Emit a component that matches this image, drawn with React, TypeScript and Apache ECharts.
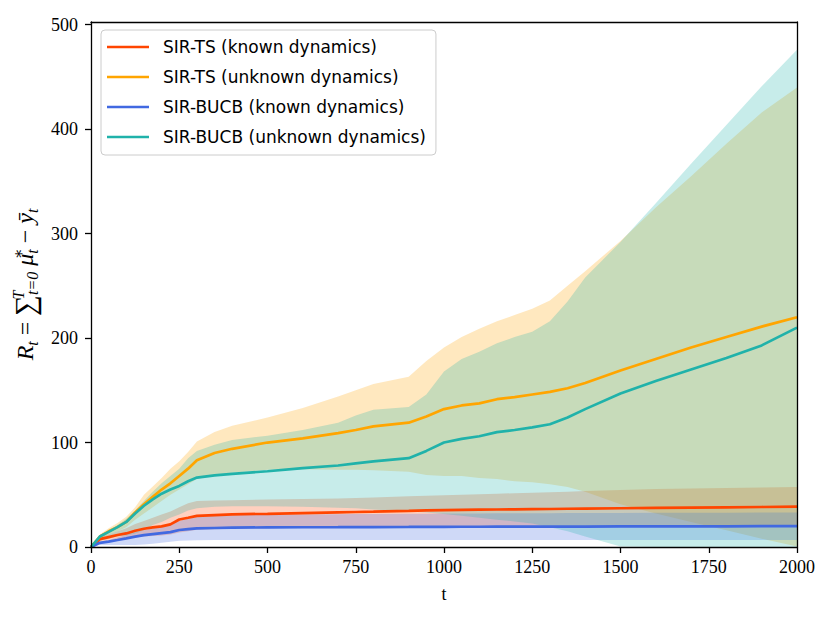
import React, { useEffect, useRef } from "react";
import * as echarts from "echarts";

const T = [0, 25, 50, 75, 100, 125, 150, 175, 200, 225, 250, 275, 300, 350, 400, 500, 600, 700, 750, 800, 900, 950, 1000, 1050, 1100, 1150, 1200, 1250, 1300, 1350, 1400, 1500, 1600, 1700, 1800, 1900, 2000];

const TS_KNOWN = [0, 7.5, 9.5, 11.5, 13, 15.5, 17.5, 18.8, 19.8, 21.7, 26.3, 28, 29.8, 30.6, 31.3, 31.8, 32.5, 33.2, 33.5, 33.8, 34.5, 35, 35.3, 35.5, 35.7, 35.9, 36, 36.2, 36.4, 36.6, 36.8, 37.1, 37.4, 37.7, 38, 38.3, 38.6];
const TS_KNOWN_HI = [0, 9, 12, 15, 18, 22, 25, 28, 31, 34, 38, 42, 44, 44.5, 44.8, 45.5, 46, 46.5, 47, 47.5, 48.5, 49, 49.5, 50, 50.5, 51, 51.5, 52, 52.5, 53, 53.5, 54.5, 55.5, 56, 56.5, 57, 57.5];
const TS_KNOWN_LO = [0, 5, 6, 7, 8, 9, 10, 10.5, 11, 12, 14, 15, 16.5, 17, 17.5, 18, 18.5, 19, 19, 19.2, 19.5, 19.6, 19.7, 19.8, 19.9, 20, 20, 20, 20, 20, 20, 20, 20, 20, 20, 20, 20];

const TS_UNK = [0, 10, 15, 19, 24, 33, 41, 48, 55, 61, 68, 75, 83, 90, 94, 100, 104, 109, 112, 115.5, 119, 125, 132, 135.5, 137.5, 141.5, 143.5, 146, 148.5, 152, 157, 169, 180, 191, 201, 211, 220];
const TS_UNK_HI = [0, 12, 18, 23, 29, 38, 50, 58, 66, 75, 82, 91, 101, 110, 116, 124, 133, 144, 150, 156, 163, 178, 191, 201, 209, 216, 222, 228, 236, 250, 264, 293, 325, 355, 386, 416, 440];
const TS_UNK_LO = [0, 8, 12, 15, 19, 26, 32, 38, 44, 50, 55, 60, 65, 69, 71, 74, 74.5, 74, 74, 73.5, 72, 69, 68, 68, 66, 65, 63, 62, 60, 57.5, 53, 41, 32, 24, 16, 8, 0.5];

const BUCB_KNOWN = [0, 4, 5.2, 6.7, 8.3, 10, 11.3, 12.3, 13.3, 14.3, 16.3, 17.2, 17.8, 18.2, 18.5, 18.8, 18.9, 19, 19.1, 19.1, 19.2, 19.3, 19.3, 19.4, 19.4, 19.5, 19.5, 19.5, 19.6, 19.6, 19.6, 19.7, 19.7, 19.8, 19.8, 19.9, 20];
const BUCB_KNOWN_HI = [0, 5, 6.5, 9, 11.5, 14, 16, 18, 20, 22, 25, 27, 29, 30, 30.5, 31, 31.2, 31.4, 31.5, 31.6, 31.8, 31.9, 32, 32, 32.1, 32.2, 32.3, 32.3, 32.4, 32.5, 32.5, 32.6, 32.7, 32.8, 32.9, 33, 33];
const BUCB_KNOWN_LO = [0, 2, 2, 2, 2, 2, 2.5, 3, 4, 5, 6, 6.3, 6.5, 6.6, 6.7, 6.7, 6.7, 6.7, 6.7, 6.7, 6.7, 6.7, 6.7, 6.7, 6.7, 6.7, 6.7, 6.7, 6.7, 6.7, 6.7, 6.7, 6.7, 6.7, 6.7, 6.7, 6.7];

const BUCB_UNK = [0, 10, 14.5, 19, 24, 32, 39.5, 45.5, 51, 55, 58.5, 63, 66.5, 68.5, 70, 72.5, 75.5, 78, 80, 82, 85, 92, 100, 103.5, 106, 110, 112, 114.5, 117.5, 124, 132, 147, 159, 170, 181, 193, 210];
const BUCB_UNK_HI = [0, 11, 16, 21, 27, 35, 44, 53, 61, 68, 75, 85, 92, 98, 102.5, 106.5, 112, 119, 126, 131.5, 134, 146, 168, 180, 187, 195, 201, 206, 216, 235, 258, 292, 329, 367, 404, 441, 476];
const BUCB_UNK_LO = [0, 6, 8, 10, 11, 13, 16, 21, 24, 28, 31, 35, 37, 38.5, 39, 39, 38.5, 37.5, 37, 36, 34, 33, 31.5, 30, 28, 26, 24.5, 22.5, 19, 15, 10, 0.5, 0, 0, 0, 0, 0];

const X_TICKS = [0, 250, 500, 750, 1000, 1250, 1500, 1750, 2000];
const Y_TICKS = [0, 100, 200, 300, 400, 500];

const NAMES = [
  "SIR-TS (known dynamics)",
  "SIR-TS (unknown dynamics)",
  "SIR-BUCB (known dynamics)",
  "SIR-BUCB (unknown dynamics)",
];
const COLORS = ["#ff4500", "#ffa500", "#4169e1", "#20b2aa"];
const MEANS = [TS_KNOWN, TS_UNK, BUCB_KNOWN, BUCB_UNK];
const HIS = [TS_KNOWN_HI, TS_UNK_HI, BUCB_KNOWN_HI, BUCB_UNK_HI];
const LOS = [TS_KNOWN_LO, TS_UNK_LO, BUCB_KNOWN_LO, BUCB_UNK_LO];

const SERIF = "'Liberation Serif', 'DejaVu Serif', serif";

function hexToRgba(hex: string, a: number) {
  const n = parseInt(hex.slice(1), 16);
  return `rgba(${(n >> 16) & 255},${(n >> 8) & 255},${n & 255},${a})`;
}

function bandSeries(idx: number) {
  const lo = LOS[idx];
  const hi = HIS[idx];
  return {
    type: "custom",
    name: "band" + idx,
    coordinateSystem: "cartesian2d",
    silent: true,
    z: 2,
    data: [[0, 0]],
    renderItem: (_params: any, api: any) => {
      const pts: number[][] = [];
      for (let i = 0; i < T.length; i++) pts.push(api.coord([T[i], hi[i]]));
      for (let i = T.length - 1; i >= 0; i--) pts.push(api.coord([T[i], lo[i]]));
      return {
        type: "polygon",
        shape: { points: pts },
        style: { fill: hexToRgba(COLORS[idx], 0.25), stroke: "none" },
      };
    },
  };
}

function lineSeries(idx: number) {
  return {
    type: "line",
    name: NAMES[idx],
    data: T.map((t, i) => [t, MEANS[idx][i]]),
    showSymbol: false,
    symbol: "none",
    z: 3,
    lineStyle: { color: COLORS[idx], width: 2.7 },
    itemStyle: { color: COLORS[idx] },
  };
}

const yName =
  "{i|R}{s|t}{n| = }{sum|∑}{sp|T}{s|t=0}{i| μ}{sp|∗}{s|t}{n| − }{i|ȳ}{s|t}";

export default function App() {
  const ref = useRef<HTMLDivElement>(null);
  useEffect(() => {
    if (!ref.current) return;
    const chart = echarts.init(ref.current, null, { renderer: "svg" });
    const axisLineStyle = { color: "#000", width: 1.3 };
    const option: any = {
      animation: false,
      backgroundColor: "#fff",
      grid: { left: 91, right: 34, top: 22, bottom: 71, containLabel: false },
      legend: {
        orient: "vertical",
        left: 101,
        top: 30,
        data: NAMES,
        icon: "rect",
        itemWidth: 42,
        itemHeight: 2.6,
        itemGap: 10,
        padding: [7, 10, 8, 6],
        backgroundColor: "rgba(255,255,255,0.8)",
        borderColor: "#cccccc",
        borderWidth: 1,
        borderRadius: 4,
        textStyle: {
          fontFamily: "'DejaVu Sans', sans-serif",
          fontSize: 17,
          color: "#000",
          lineHeight: 20,
          padding: [0, 0, 0, 9],
        },
      },
      xAxis: [
        {
          type: "value",
          min: 0,
          max: 2000,
          interval: 250,
          position: "bottom",
          z: 5,
          name: "t",
          nameLocation: "middle",
          nameGap: 38,
          nameTextStyle: { fontFamily: SERIF, fontSize: 18, color: "#000" },
          axisLine: { show: true, onZero: false, lineStyle: axisLineStyle },
          axisTick: { show: true, length: 6, lineStyle: axisLineStyle, customValues: X_TICKS },
          axisLabel: {
            customValues: X_TICKS,
            fontFamily: SERIF,
            fontSize: 18,
            color: "#000",
            margin: 11,
            formatter: (v: number) => String(v),
          },
          splitLine: { show: false },
        },
        {
          type: "value",
          min: 0,
          max: 2000,
          position: "top",
          z: 5,
          axisLine: { show: true, onZero: false, lineStyle: axisLineStyle },
          axisTick: { show: false },
          axisLabel: { show: false },
          splitLine: { show: false },
        },
      ],
      yAxis: [
        {
          type: "value",
          min: 0,
          max: 502.6,
          interval: 100,
          position: "left",
          z: 5,
          name: yName,
          nameLocation: "middle",
          nameRotate: 90,
          nameGap: 39,
          nameTextStyle: {
            fontFamily: SERIF,
            color: "#000",
            rich: {
              i: { fontFamily: SERIF, fontStyle: "italic", fontSize: 24, lineHeight: 30, color: "#000" },
              n: { fontFamily: SERIF, fontSize: 24, lineHeight: 30, color: "#000" },
              sum: { fontFamily: SERIF, fontSize: 29, lineHeight: 30, color: "#000" },
              s: { fontFamily: SERIF, fontStyle: "italic", fontSize: 16, lineHeight: 15, verticalAlign: "bottom", color: "#000" },
              sp: { fontFamily: SERIF, fontStyle: "italic", fontSize: 16, lineHeight: 15, verticalAlign: "top", width: 0, color: "#000" },
            },
          },
          axisLine: { show: true, onZero: false, lineStyle: axisLineStyle },
          axisTick: { show: true, length: 6, lineStyle: axisLineStyle, customValues: Y_TICKS },
          axisLabel: {
            customValues: Y_TICKS,
            fontFamily: SERIF,
            fontSize: 18,
            color: "#000",
            margin: 13,
            formatter: (v: number) => String(v),
          },
          splitLine: { show: false },
        },
        {
          type: "value",
          min: 0,
          max: 502.6,
          position: "right",
          z: 5,
          axisLine: { show: true, onZero: false, lineStyle: axisLineStyle },
          axisTick: { show: false },
          axisLabel: { show: false },
          splitLine: { show: false },
        },
      ],
      series: [
        bandSeries(0),
        bandSeries(1),
        bandSeries(2),
        bandSeries(3),
        lineSeries(0),
        lineSeries(1),
        lineSeries(2),
        lineSeries(3),
      ],
    };
    chart.setOption(option);
    return () => chart.dispose();
  }, []);
  return (
    <div
      ref={ref}
      style={{ position: "fixed", left: 0, top: 0, width: 831, height: 618, background: "#fff" }}
    />
  );
}
